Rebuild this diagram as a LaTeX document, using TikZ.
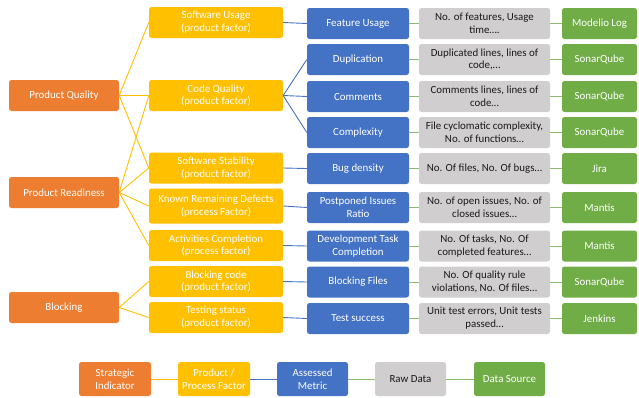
\documentclass[tikz,border=0pt]{standalone}
\usepackage{fontspec}
\setmainfont{Carlito}
\definecolor{stratcol}{HTML}{ED7D31}
\definecolor{factcol}{HTML}{FFC000}
\definecolor{metriccol}{HTML}{4472C4}
\definecolor{rawcol}{HTML}{D0CECE}
\definecolor{srccol}{HTML}{70AD47}
\definecolor{rawtext}{HTML}{1A1A1A}
\tikzset{
  box/.style={rounded corners=2.5pt, align=center, inner sep=0pt,
    font=\fontsize{10.9}{12.8}\selectfont, minimum height=31pt},
  strat/.style={box, fill=stratcol, text=white, minimum width=110pt},
  fact/.style={box, fill=factcol, text=white, minimum width=134pt},
  metric/.style={box, fill=metriccol, text=white, minimum width=102pt},
  raw/.style={box, fill=rawcol, text=rawtext, minimum width=131pt},
  src/.style={box, fill=srccol, text=white, minimum width=75pt},
  factline/.style={draw=factcol, line width=0.9pt},
  metricline/.style={draw=metriccol, line width=0.9pt},
  srcline/.style={draw=srccol!80, line width=0.9pt}
}
\begin{document}
\begin{tikzpicture}[x=1pt,y=-1pt]
    \useasboundingbox (0,0) rectangle (639,397);
    % strategic indicators
    \node[strat] (pq) at (64, 95.5) {Product Quality};
    \node[strat] (pr) at (64, 192.5) {Product Readiness};
    \node[strat] (bl) at (64, 307.5) {Blocking};

    % product / process factors
    \node[fact] (su) at (216, 22.5) {Software Usage\\(product factor)};
    \node[fact] (cq) at (216, 95.5) {Code Quality\\(product factor)};
    \node[fact] (ss) at (216, 168) {Software Stability\\(product factor)};
    \node[fact, minimum height=35pt] (krd) at (216, 206) {Known Remaining Defects\\(process Factor)};
    \node[fact] (ac) at (216, 245.5) {Activities Completion\\(process factor)};
    \node[fact] (bc) at (216, 281.5) {Blocking code\\(product factor)};
    \node[fact] (ts) at (216, 317.5) {Testing status\\(product factor)};

    % assessed metrics
    \node[metric] (fu) at (358, 23.5) {Feature Usage};
    \node[metric] (dup) at (358, 59.5) {Duplication};
    \node[metric] (com) at (358, 96.5) {Comments};
    \node[metric] (cpx) at (358, 132.5) {Complexity};
    \node[metric] (bug) at (358, 168.5) {Bug density};
    \node[metric] (pir) at (358, 207.5) {Postponed Issues\\Ratio};
    \node[metric] (dtc) at (358, 246) {Development Task\\Completion};
    \node[metric] (bf) at (358, 282) {Blocking Files};
    \node[metric] (tsu) at (358, 318.5) {Test success};

    % raw data
    \node[raw] (r1) at (484.5, 23.5) {No. of features, Usage\\time\dots.};
    \node[raw] (r2) at (484.5, 59.5) {Duplicated lines, lines of\\code,\dots};
    \node[raw] (r3) at (484.5, 96.5) {Comments lines, lines of\\code\dots};
    \node[raw] (r4) at (484.5, 132.5) {File cyclomatic complexity,\\No. of functions\dots};
    \node[raw] (r5) at (484.5, 168.5) {No. Of files, No. Of bugs\dots};
    \node[raw] (r6) at (484.5, 207.5) {No. of open issues, No. of\\closed issues\dots};
    \node[raw] (r7) at (484.5, 246) {No. Of tasks, No. Of\\completed features\dots};
    \node[raw] (r8) at (484.5, 282) {No. Of quality rule\\violations, No. Of files\dots};
    \node[raw] (r9) at (484.5, 318.5) {Unit test errors, Unit tests\\passed\dots};

    % data sources
    \node[src] (s1) at (599.5, 23.5) {Modelio Log};
    \node[src] (s2) at (599.5, 59.5) {SonarQube};
    \node[src] (s3) at (599.5, 96.5) {SonarQube};
    \node[src] (s4) at (599.5, 132.5) {SonarQube};
    \node[src] (s5) at (599.5, 168.5) {Jira};
    \node[src] (s6) at (599.5, 207.5) {Mantis};
    \node[src] (s7) at (599.5, 246) {Mantis};
    \node[src] (s8) at (599.5, 282) {SonarQube};
    \node[src] (s9) at (599.5, 318.5) {Jenkins};

    % indicator to factor
    \draw[factline] (pq.east) -- (su.west);
    \draw[factline] (pq.east) -- (cq.west);
    \draw[factline] (pq.east) -- (ss.west);
    \draw[factline] (pr.east) -- (cq.west);
    \draw[factline] (pr.east) -- (ss.west);
    \draw[factline] (pr.east) -- (krd.west);
    \draw[factline] (pr.east) -- (ac.west);
    \draw[factline] (bl.east) -- (bc.west);
    \draw[factline] (bl.east) -- (ts.west);

    % factor to metric
    \draw[metricline] (su.east) -- (fu.west);
    \draw[metricline] (cq.east) -- (dup.west);
    \draw[metricline] (cq.east) -- (com.west);
    \draw[metricline] (cq.east) -- (cpx.west);
    \draw[metricline] (ss.east) -- (bug.west);
    \draw[metricline] (krd.east) -- (pir.west);
    \draw[metricline] (ac.east) -- (dtc.west);
    \draw[metricline] (bc.east) -- (bf.west);
    \draw[metricline] (ts.east) -- (tsu.west);

    % metric to raw data to source
    \draw[srcline] (fu.east) -- (r1.west);  \draw[srcline] (r1.east) -- (s1.west);
    \draw[srcline] (dup.east) -- (r2.west); \draw[srcline] (r2.east) -- (s2.west);
    \draw[srcline] (com.east) -- (r3.west); \draw[srcline] (r3.east) -- (s3.west);
    \draw[srcline] (cpx.east) -- (r4.west); \draw[srcline] (r4.east) -- (s4.west);
    \draw[srcline] (bug.east) -- (r5.west); \draw[srcline] (r5.east) -- (s5.west);
    \draw[srcline] (pir.east) -- (r6.west); \draw[srcline] (r6.east) -- (s6.west);
    \draw[srcline] (dtc.east) -- (r7.west); \draw[srcline] (r7.east) -- (s7.west);
    \draw[srcline] (bf.east) -- (r8.west);  \draw[srcline] (r8.east) -- (s8.west);
    \draw[srcline] (tsu.east) -- (r9.west); \draw[srcline] (r9.east) -- (s9.west);

    % legend
    \node[strat, minimum width=72pt, minimum height=34pt] (lg1) at (115, 379) {Strategic\\Indicator};
    \node[fact, minimum width=72pt, minimum height=34pt] (lg2) at (214, 379) {Product /\\Process Factor};
    \node[metric, minimum width=71pt, minimum height=34pt] (lg3) at (312.5, 379) {Assessed\\Metric};
    \node[raw, minimum width=71pt, minimum height=34pt] (lg4) at (410.5, 379) {Raw Data};
    \node[src, minimum width=71pt, minimum height=34pt] (lg5) at (509.5, 379) {Data Source};
    \draw[factline] (lg1.east) -- (lg2.west);
    \draw[metricline] (lg2.east) -- (lg3.west);
    \draw[srcline] (lg3.east) -- (lg4.west);
    \draw[srcline] (lg4.east) -- (lg5.west);
\end{tikzpicture}
\end{document}
